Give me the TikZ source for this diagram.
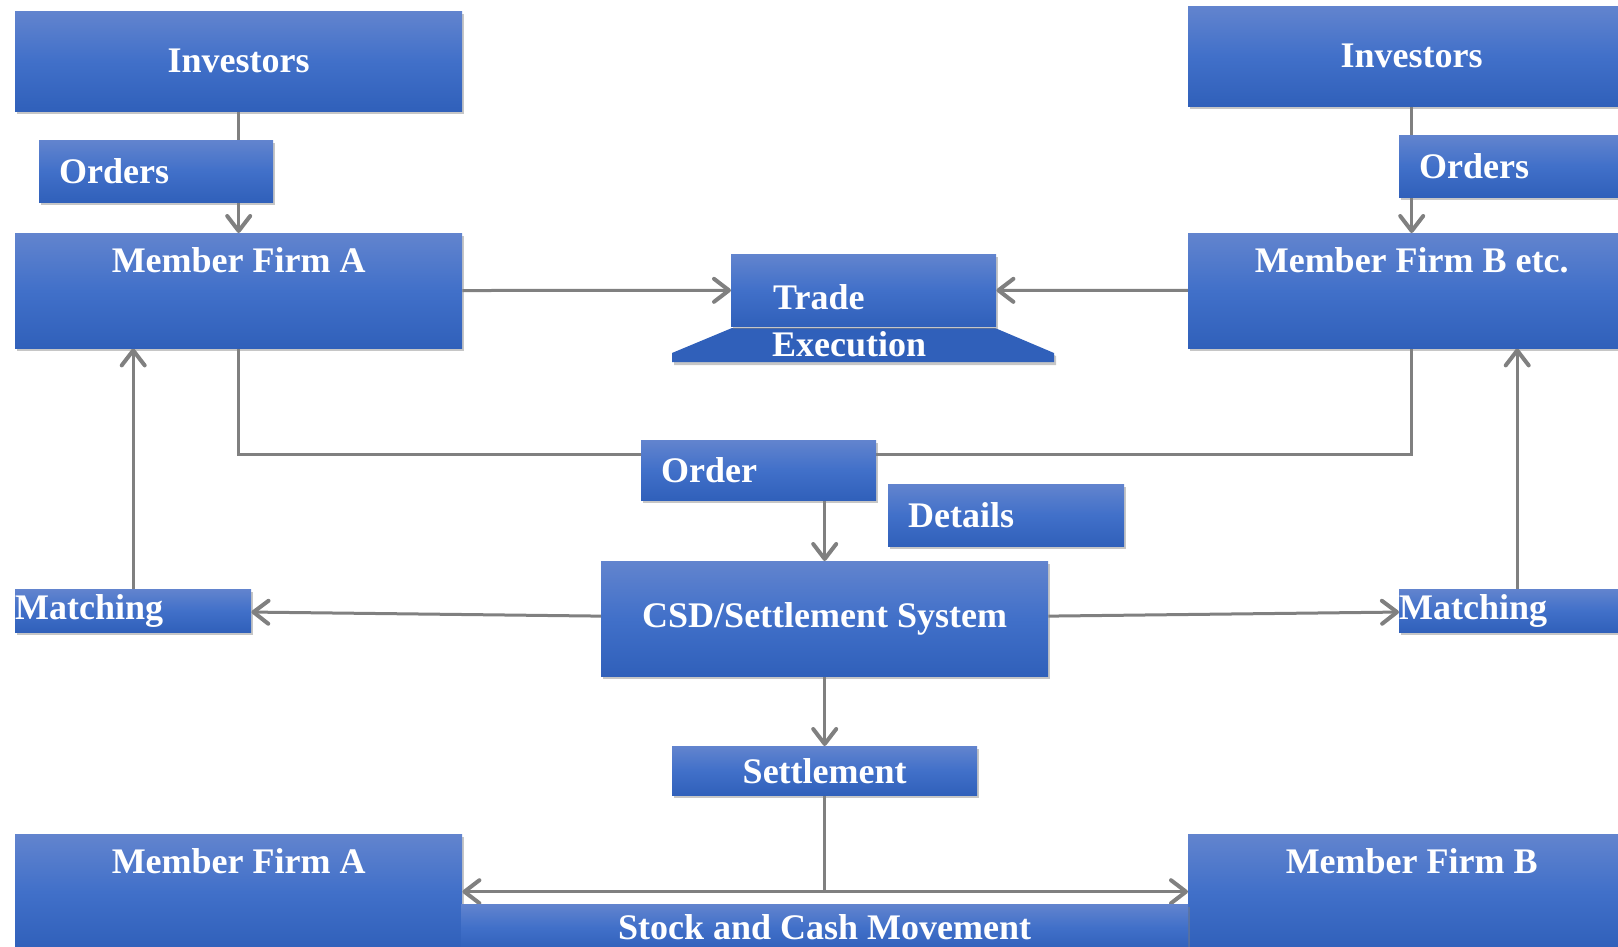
\documentclass[tikz,border=0pt]{standalone}
\usepackage{fontspec}
\setmainfont{Liberation Serif}
\usetikzlibrary{arrows.meta,shadows,backgrounds}

\definecolor{boxtop}{RGB}{98,132,206}
\definecolor{boxmid}{RGB}{65,112,201}
\definecolor{boxbot}{RGB}{48,96,186}
\definecolor{linegray}{RGB}{128,128,128}

\begin{document}
\begin{tikzpicture}[x=1pt,y=-1pt,>={Straight Barb[length=15pt,width=23pt,round,line width=4pt]},
  box/.style   ={rectangle,inner sep=0pt,anchor=north west,
                 top color=boxtop,bottom color=boxbot,middle color=boxmid,
                 text=white,font=\fontsize{36}{43}\selectfont\bfseries,
                 drop shadow={shadow xshift=2pt,shadow yshift=-3pt,opacity=0.45}},
  big/.style   ={box,minimum width=447pt,minimum height=100pt},
  firm/.style  ={box,minimum width=447pt,text height=39pt,text depth=76pt},
  tag/.style   ={box,inner xsep=20pt,align=left,minimum height=62pt}]
  \useasboundingbox (0,0) rectangle (1618,947);
  \clip (0,0) rectangle (1618,947);
  % top row
  \node[big]  (invA)   at (15,11)    {Investors};
  \node[big]  (invB)   at (1188,6)   {Investors};
  \node[tag,text width=194pt] (ordA) at (39,140)  {Orders};
  \node[tag,text width=194pt] (ordB) at (1399,135) {Orders};
  \node[firm] (mfA)    at (15,233)   {Member Firm A};
  \node[firm] (mfB)    at (1188,233) {Member Firm B etc.};
  % trade execution
  \fill[boxbot,drop shadow={shadow xshift=2pt,shadow yshift=-3pt,opacity=0.45}]
    (672,362) -- (672,353) -- (732,328) -- (995,328) -- (1054,353) -- (1054,362) -- cycle;
  \node[box,align=left,text width=181pt,inner xsep=42pt,text height=55pt,text depth=17pt]
        (trade) at (731,254) {Trade};
  \node[text=white,font=\fontsize{36}{43}\selectfont\bfseries,anchor=west,inner sep=0pt]
        (exec) at (772,344) {Execution};
  % settlement
  \node[tag,text width=195pt,minimum height=60pt] (order) at (641,440) {Order};
  \node[tag,text width=196pt] (details) at (888,484) {Details};
  \node[box,minimum width=447pt,minimum height=115pt] (csd) at (601,561) {CSD/Settlement System};
  \node[tag,text width=236pt,inner xsep=0pt,minimum height=43pt] (matchA) at (15,589)   {Matching};
  \node[tag,text width=236pt,inner xsep=0pt,minimum height=43pt] (matchB) at (1399,589) {Matching};
  \node[box,minimum width=305pt,minimum height=49pt] (settle) at (672,746) {Settlement};
  \node[firm] (mfA2)   at (15,834)   {Member Firm A};
  \node[firm] (mfB2)   at (1188,834) {Member Firm B};
  \node[box,minimum width=727pt,minimum height=46pt] (stock) at (461,904) {Stock and Cash Movement};

  \begin{scope}[on background layer]
\tikzset{mystyle/.style={->,draw=linegray,line width=3pt}}
\path (invA)   edge [mystyle] (mfA)
      (invB)   edge [mystyle] (mfB)
      (mfA)    edge [mystyle] (trade)
      (mfB)    edge [mystyle] (trade)
      (csd)    edge [mystyle] (matchA)
      (csd)    edge [mystyle] (matchB)
      (csd)    edge [mystyle] (settle);
\draw[mystyle] (csd.north |- order.south) -- (csd.north);
\draw[mystyle] (matchA.north) -- (matchA.north |- mfA.south);
\draw[mystyle] (matchB.north) -- (matchB.north |- mfB.south);
\tikzset{mystyle/.style={draw=linegray,line width=3pt}}
\draw[mystyle] (mfA.south) |- ([yshift=16pt]order.west);
\draw[mystyle] ([yshift=16pt]order.east) -| (mfB.south);
\draw[mystyle] (settle) -- (settle.south |- mfA2.east);
\path (mfA2)   edge [mystyle,<->] (mfB2);
  \end{scope}
\end{tikzpicture}
\end{document}
